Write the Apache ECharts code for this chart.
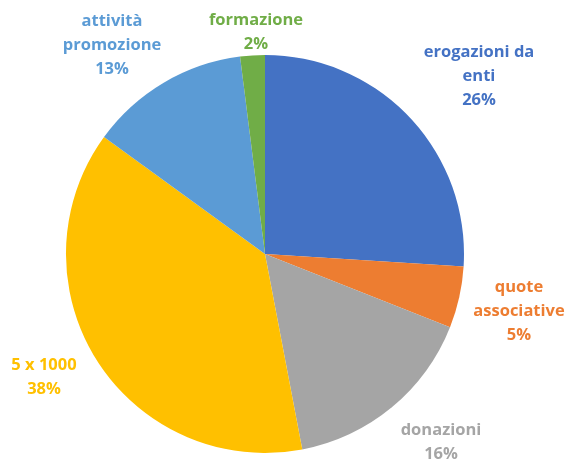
<!DOCTYPE html>
<html>
<head>
<meta charset="utf-8">
<script src="https://cdn.jsdelivr.net/npm/echarts@6/dist/echarts.min.js"></script>
<style>html,body{margin:0;padding:0;background:#fff}#c{width:569px;height:464px}</style>
</head>
<body>
<div id="c"></div>
<script>
const categories = ['erogazioni da\nenti', 'quote\nassociative', 'donazioni', '5 x 1000', 'attività\npromozione', 'formazione'];
const values = [26, 5, 16, 38, 13, 2];
const colors = ['#4472C4', '#ED7D31', '#A5A5A5', '#FFC000', '#5B9BD5', '#70AD47'];
const labelPos = [[479, 76], [519, 311], [441, 442], [44, 377], [112, 45], [256, 32]];

const chart = echarts.init(document.getElementById('c'), null, {renderer: 'canvas'});
chart.setOption({
  animation: false,
  series: [{
    type: 'pie',
    center: [265, 254],
    radius: [0, 199],
    startAngle: 90,
    clockwise: true,
    avoidLabelOverlap: false,
    data: categories.map((n, i) => ({
      name: n, value: values[i],
      itemStyle: {color: colors[i]},
      label: {color: colors[i]}
    })),
    label: {
      show: true,
      position: 'outside',
      formatter: '{b}\n{d}%',
      fontFamily: 'Open Sans',
      fontWeight: 'bold',
      fontSize: 16.5,
      lineHeight: 24,
      align: 'center'
    },
    labelLine: {show: false},
    labelLayout: function (p) {
      const pos = labelPos[p.dataIndex];
      return {x: pos[0], y: pos[1], align: 'center', verticalAlign: 'middle'};
    }
  }]
});
</script>
</body>
</html>
